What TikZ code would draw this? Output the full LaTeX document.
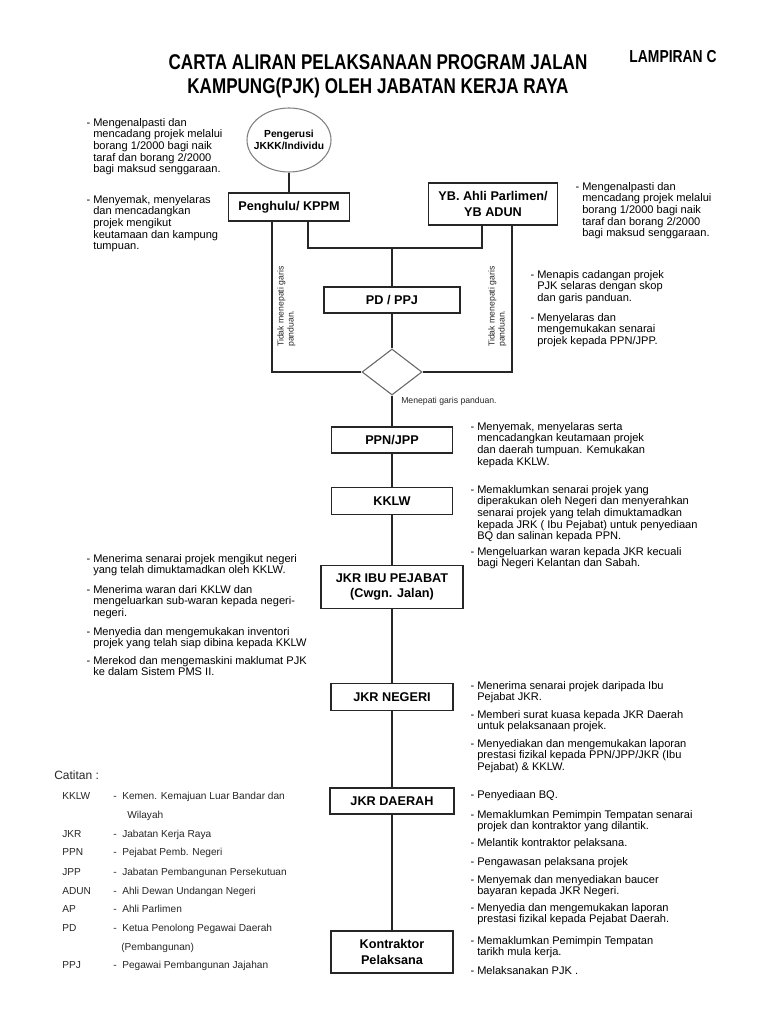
\documentclass[tikz,border=0pt]{standalone}
\usepackage{fontspec}
\setmainfont{Liberation Sans}
\newfontfamily\condfont[FakeStretch=0.8]{Liberation Sans}
\usepackage{tikz}
\usetikzlibrary{shapes.geometric}
\newcommand\notefont{\fontsize{8.3}{8.7}\selectfont}
\newcommand\boxfont{\fontsize{9.5}{11.5}\selectfont\bfseries}
\tikzset{
  stepbox/.style={draw=black!85, line width=0.9pt, fill=white, inner sep=1pt, align=center, font=\boxfont},
  chairnode/.style={ellipse, draw=black!50, line width=0.8pt, inner xsep=-6pt, inner ysep=0pt, align=center, font=\fontsize{7.7}{9.5}\selectfont\bfseries},
  checknode/.style={diamond, draw=black!60, line width=0.8pt, inner sep=0pt},
  link/.style={draw=black!85, line width=0.9pt},
  note/.style={anchor=north west, inner sep=0pt, align=left, font=\notefont},
  sidenote/.style={inner sep=0pt, align=left, font=\fontsize{6.5}{7.5}\selectfont, text=black!85},
  legend/.style={anchor=base west, inner sep=0pt, font=\fontsize{7.6}{9}\selectfont, text=black!85}
}

\begin{document}
\begin{tikzpicture}[x=0.75pt, y=-0.75pt]
  \useasboundingbox (0,0) rectangle (768,1024);

  \node[font=\condfont\bfseries\fontsize{16}{18}\selectfont, align=center] (title) at (378,76)
    {CARTA ALIRAN PELAKSANAAN PROGRAM JALAN\\KAMPUNG(PJK) OLEH JABATAN KERJA RAYA};
  \node[font=\condfont\bfseries\fontsize{13}{15}\selectfont] (lampiran) at (673,57) {LAMPIRAN C};

  % carta aliran
  \node[chairnode, minimum width=63pt, minimum height=48pt] (chair) at (289,140) {Pengerusi\\JKKK/Individu};
  \node[stepbox, minimum width=90.75pt, minimum height=21pt] (penghulu) at (289,207) {Penghulu/ KPPM};
  \node[stepbox, minimum width=96.75pt, minimum height=31.5pt] (yb) at (493,204) {YB. Ahli Parlimen/\\YB ADUN};
  \node[stepbox, minimum width=102pt, minimum height=19.5pt] (pdppj) at (392,300) {PD / PPJ};
  \node[checknode, minimum width=45pt, minimum height=34.5pt] (check) at (392,372) {};
  \node[stepbox, minimum width=90.75pt, minimum height=19.5pt] (ppn) at (392,440) {PPN/JPP};
  \node[stepbox, minimum width=90.75pt, minimum height=20.25pt] (kklw) at (392,501) {KKLW};
  \node[stepbox, minimum width=106.5pt, minimum height=32.25pt] (jkribu) at (392,587) {JKR IBU PEJABAT\\(Cwgn. Jalan)};
  \node[stepbox, minimum width=91.5pt, minimum height=20.25pt] (jkrneg) at (392,697) {JKR NEGERI};
  \node[stepbox, minimum width=93pt, minimum height=19.5pt] (jkrdae) at (392,801) {JKR DAERAH};
  \node[stepbox, minimum width=91.5pt, minimum height=31.5pt] (kontr) at (392,952) {Kontraktor\\Pelaksana};

  \coordinate (lft) at (272,0);
  \coordinate (pl) at (308,0);
  \coordinate (yl) at (482,0);
  \coordinate (rgt) at (512,0);
  \coordinate (jn) at (392,248);

  \draw[link] (chair) -- (penghulu);
  \draw[link] (penghulu.south -| lft) |- (check.west);
  \draw[link] (penghulu.south -| pl) |- (jn) -| (yb.south -| yl);
  \draw[link] (jn) -- (pdppj);
  \draw[link] (yb.south -| rgt) |- (check.east);
  \draw[link] (pdppj) -- (check);
  \draw[link] (check) -- (ppn);
  \draw[link] (ppn) -- (kklw);
  \draw[link] (kklw) -- (jkribu);
  \draw[link] (jkribu) -- (jkrneg);
  \draw[link] (jkrneg) -- (jkrdae);
  \draw[link] (jkrdae) -- (kontr);

  \node[sidenote, rotate=90, anchor=north west] (nogl) at (277,347) {Tidak menepati garis\\panduan.};
  \node[sidenote, rotate=90, anchor=north west] (nogr) at (488,347) {Tidak menepati garis\\panduan.};
  \node[sidenote, anchor=west] (yesg) at (401,401) {Menepati garis panduan.};

  % keterangan
  \node[note] (n1) at (93,118) {\llap{-\ }Mengenalpasti dan\\mencadang projek melalui\\borang 1/2000 bagi naik\\taraf dan borang 2/2000\\bagi maksud senggaraan.};
  \node[note] (n2) at (93,195) {\llap{-\ }Menyemak, menyelaras\\dan mencadangkan\\projek mengikut\\keutamaan dan kampung\\tumpuan.};
  \node[note] (n3) at (582,182) {\llap{-\ }Mengenalpasti dan\\mencadang projek melalui\\borang 1/2000 bagi naik\\taraf dan borang 2/2000\\bagi maksud senggaraan.};
  \node[note] (n4) at (537,270) {\llap{-\ }Menapis cadangan projek\\PJK selaras dengan skop\\dan garis panduan.};
  \node[note] (n5) at (537,313) {\llap{-\ }Menyelaras dan\\mengemukakan senarai\\projek kepada PPN/JPP.};
  \node[note] (n6) at (477,422) {\llap{-\ }Menyemak, menyelaras serta\\mencadangkan keutamaan projek\\dan daerah tumpuan. Kemukakan\\kepada KKLW.};
  \node[note] (n7) at (477,485) {\llap{-\ }Memaklumkan senarai projek yang\\diperakukan oleh Negeri dan menyerahkan\\senarai projek yang telah dimuktamadkan\\kepada JRK ( Ibu Pejabat) untuk penyediaan\\BQ dan salinan kepada PPN.};
  \node[note] (n8) at (477,547) {\llap{-\ }Mengeluarkan waran kepada JKR kecuali\\bagi Negeri Kelantan dan Sabah.};
  \node[note] (n9) at (93,554) {\llap{-\ }Menerima senarai projek mengikut negeri\\yang telah dimuktamadkan oleh KKLW.};
  \node[note] (n10) at (93,585) {\llap{-\ }Menerima waran dari KKLW dan\\mengeluarkan sub-waran kepada negeri-\\negeri.};
  \node[note] (n11) at (93,627) {\llap{-\ }Menyedia dan mengemukakan inventori\\projek yang telah siap dibina kepada KKLW};
  \node[note] (n12) at (93,656) {\llap{-\ }Merekod dan mengemaskini maklumat PJK\\ke dalam Sistem PMS II.};
  \node[note] (n13) at (477,681) {\llap{-\ }Menerima senarai projek daripada Ibu\\Pejabat JKR.};
  \node[note] (n14) at (477,710) {\llap{-\ }Memberi surat kuasa kepada JKR Daerah\\untuk pelaksanaan projek.};
  \node[note] (n15) at (477,739) {\llap{-\ }Menyediakan dan mengemukakan laporan\\prestasi fizikal kepada PPN/JPP/JKR (Ibu\\Pejabat) \& KKLW.};
  \node[note] (n16) at (477,790) {\llap{-\ }Penyediaan BQ.};
  \node[note] (n17) at (477,810) {\llap{-\ }Memaklumkan Pemimpin Tempatan senarai\\projek dan kontraktor yang dilantik.};
  \node[note] (n18) at (477,838) {\llap{-\ }Melantik kontraktor pelaksana.};
  \node[note] (n19) at (477,857) {\llap{-\ }Pengawasan pelaksana projek};
  \node[note] (n20) at (477,875) {\llap{-\ }Menyemak dan menyediakan baucer\\bayaran kepada JKR Negeri.};
  \node[note] (n21) at (477,903) {\llap{-\ }Menyedia dan mengemukakan laporan\\prestasi fizikal kepada Pejabat Daerah.};
  \node[note] (n22) at (477,936) {\llap{-\ }Memaklumkan Pemimpin Tempatan\\tarikh mula kerja.};
  \node[note] (n23) at (477,966) {\llap{-\ }Melaksanakan PJK .};

  % catitan
  \node[legend, font=\fontsize{9}{10}\selectfont] (catitan) at (54,779) {Catitan :};
  \foreach \ab/\ds/\yy in {KKLW/Kemen. Kemajuan Luar Bandar dan/799, JKR/Jabatan Kerja Raya/837,
      PPN/Pejabat Pemb. Negeri/855, JPP/Jabatan Pembangunan Persekutuan/875,
      ADUN/Ahli Dewan Undangan Negeri/894, AP/Ahli Parlimen/912,
      PD/Ketua Penolong Pegawai Daerah/931, PPJ/Pegawai Pembangunan Jajahan/968}{
    \node[legend] (ab-\ab) at (62,\yy) {\ab};
    \node[legend] (ds-\ab) at (113,\yy) {-\ \ \ds};
  }
  \node[legend] (ds-KKLW2) at (127,818) {Wilayah};
  \node[legend] (ds-PD2) at (121,950) {(Pembangunan)};
\end{tikzpicture}
\end{document}
